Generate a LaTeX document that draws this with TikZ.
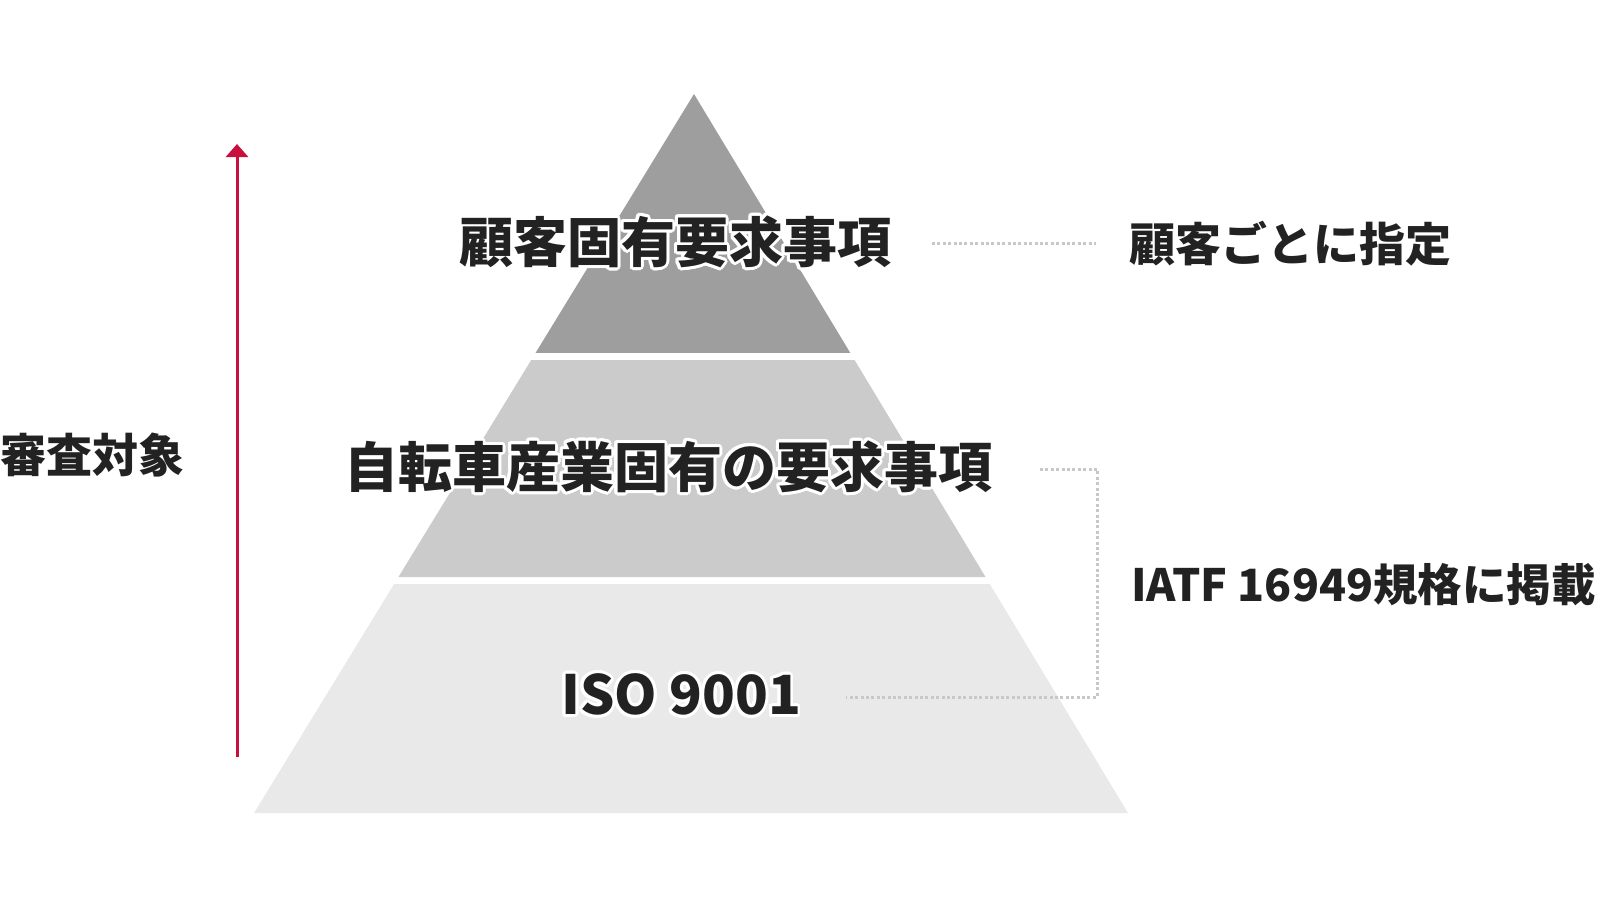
\documentclass[tikz,border=0pt]{standalone}
\usepackage{fontspec}
\setmainfont{Noto Sans CJK JP}
\usepackage{contour}
\contourlength{3pt}
\contournumber{24}
\usetikzlibrary{arrows.meta,calc}
\definecolor{txt}{HTML}{222222}
\definecolor{layerA}{HTML}{9E9E9F}
\definecolor{layerB}{HTML}{CBCBCB}
\definecolor{layerC}{HTML}{E9E9E9}
\definecolor{crimson}{HTML}{C8103E}
\definecolor{dotgray}{HTML}{C8C8C8}
\begin{document}
\begin{tikzpicture}[x=1pt,y=-1pt,
  lbl/.style={text=txt,inner sep=0pt,font=\bfseries\fontsize{54}{60}\selectfont},
  side/.style={text=txt,inner sep=0pt,anchor=west,font=\bfseries\fontsize{46}{52}\selectfont},
  dotline/.style={draw=dotgray,line width=3pt,dash pattern=on 3pt off 2.4pt},
  upArrow/.style={draw=crimson,line width=3pt,-{Triangle[width=22pt,length=13pt]}}]
\useasboundingbox (0,0) rectangle (1602,900);
\coordinate (A) at (694,94);
\coordinate (BL) at (254,813);
\coordinate (BR) at (1128,813);
% layers
\fill[layerA] (A) -- ($(A)!0.3602!(BL)$) -- ($(A)!0.3602!(BR)$) -- cycle;
\fill[layerB] ($(A)!0.3700!(BL)$) -- ($(A)!0.6718!(BL)$) -- ($(A)!0.6718!(BR)$) -- ($(A)!0.3700!(BR)$) -- cycle;
\fill[layerC] ($(A)!0.6815!(BL)$) -- (BL) -- (BR) -- ($(A)!0.6815!(BR)$) -- cycle;
% arrow
\coordinate (arrS) at (237,757);
\coordinate (arrE) at (237,144);
\draw[upArrow] (arrS) -- (arrE);
\node[side] (target) at (0,455) {審査対象};
% dotted connectors
\coordinate (d1s) at (932,243);
\coordinate (d1e) at (1096,243);
\coordinate (d2s) at (1040,469);
\coordinate (d2c) at (1097,469);
\coordinate (d3c) at (1097,697);
\coordinate (d3s) at (846,697);
\draw[dotline] (d1s) -- (d1e);
\draw[dotline] (d2s) -- (d2c) -- (d3c) -- (d3s);
% labels
\node[lbl] (top) at (675,243) {\contour{white}{顧客固有要求事項}};
\node[lbl] (mid) at (668,468) {\contour{white}{自転車産業固有の要求事項}};
\node[lbl] (bot) at (681,696) {\contour{white}{ISO 9001}};
\node[side] (cust) at (1129,244) {顧客ごとに指定};
\node[side,font=\bfseries\fontsize{44.5}{50}\selectfont] (iatf) at (1131,585) {IATF 16949規格に掲載};
\end{tikzpicture}
\end{document}
